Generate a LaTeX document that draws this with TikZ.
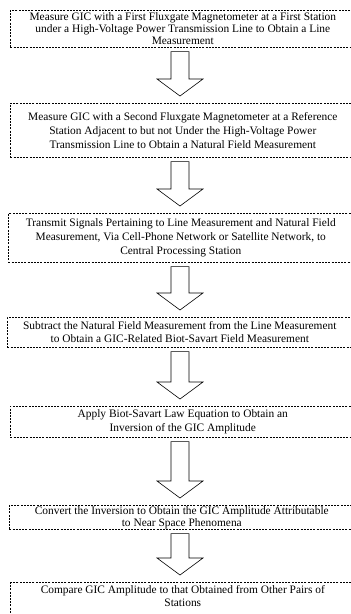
\documentclass[tikz,border=0pt]{standalone}
\usepackage{fontspec}
\setmainfont{Liberation Serif}
\usetikzlibrary{calc}
\tikzset{
  dashline/.style={line width=0.6pt, dash pattern=on 2pt off 1.2pt},
  box/.style={draw, dashline, anchor=north west,
    minimum width=345pt, inner sep=0.5pt, align=center,
    font=\fontsize{11.4}{13.2}\selectfont},
  harrow/.style={draw, line width=0.6pt, fill=white}
}
\newcommand\harrow[2]{%
  \draw[harrow] let \p1=(#1.south), \p2=(#2.north) in
  (171pt,\y1-4pt) -- (171pt,\y2+24pt) -- (157pt,\y2+24pt) -- (180pt,\y2+7pt)
  -- (203pt,\y2+24pt) -- (189pt,\y2+24pt) -- (189pt,\y1-4pt) -- cycle;}
\begin{document}
\begin{tikzpicture}[x=1pt,y=-1pt]
\useasboundingbox (0,0) rectangle (351,614);
\clip (0,0) rectangle (351,614);
\node[box, minimum height=37pt, font=\fontsize{11.4}{12}\selectfont] (b1) at (10,10)
  {Measure GIC with a First Fluxgate Magnetometer at a First Station\\
   under a High-Voltage Power Transmission Line to Obtain a Line\\
   Measurement};
\node[box, minimum height=54pt, font=\fontsize{11.4}{14}\selectfont] (b2) at (10,103)
  {Measure GIC with a Second Fluxgate Magnetometer at a Reference\\
   Station Adjacent to but not Under the High-Voltage Power\\
   Transmission Line to Obtain a Natural Field Measurement};
\node[box, minimum height=49pt, font=\fontsize{11.4}{14}\selectfont] (b3) at (8,213)
  {Transmit Signals Pertaining to Line Measurement and Natural Field\\
   Measurement, Via Cell-Phone Network or Satellite Network, to\\
   Central Processing Station};
\node[box, minimum height=30pt] (b4) at (7,317)
  {Subtract the Natural Field Measurement from the Line Measurement\\
   to Obtain a GIC-Related Biot-Savart Field Measurement};
\node[box, minimum height=31pt] (b5) at (10,406)
  {Apply Biot-Savart Law Equation to Obtain an\\
   Inversion of the GIC Amplitude};
\node[box, minimum height=24pt, font=\fontsize{11.4}{12}\selectfont] (b6) at (9,505)
  {Convert the Inversion to Obtain the GIC Amplitude Attributable\\
   to Near Space Phenomena};
\node[box, draw=none, minimum height=28pt] (b7) at (10,582)
  {Compare GIC Amplitude to that Obtained from Other Pairs of\\
   Stations};
\draw[dashline] (b7.north west) rectangle ($(b7.south east)+(0,14)$);
\harrow{b1}{b2}
\harrow{b2}{b3}
\harrow{b3}{b4}
\harrow{b4}{b5}
\harrow{b5}{b6}
\harrow{b6}{b7}
\end{tikzpicture}
\end{document}
